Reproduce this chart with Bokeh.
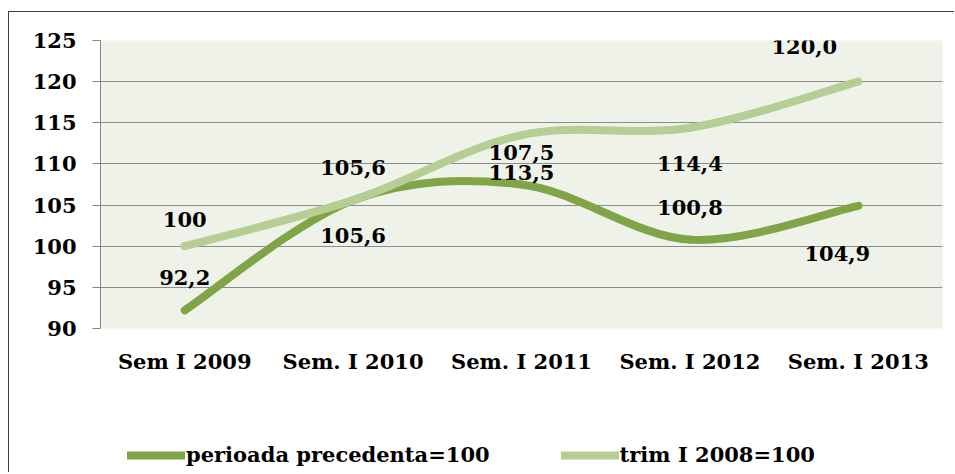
from bokeh.plotting import figure
from bokeh.layouts import column
from bokeh.models import Range1d, FixedTicker, Legend, LegendItem, ColumnDataSource
from bokeh.core.properties import value
from bokeh.embed import file_html
from bokeh.resources import INLINE

# ---- data ----
categories = ["Sem I 2009", "Sem. I 2010", "Sem. I 2011", "Sem. I 2012", "Sem. I 2013"]
prev_period = [92.2, 105.6, 107.5, 100.8, 104.9]      # perioada precedenta=100
base_2008 = [100.0, 105.6, 113.5, 114.4, 120.0]        # trim I 2008=100
prev_labels = ["92,2", "105,6", "107,5", "100,8", "104,9"]
base_labels = ["100", "105,6", "113,5", "114,4", "120,0"]
series_names = ["perioada precedenta=100", "trim I 2008=100"]
y_ticks = [90, 95, 100, 105, 110, 115, 120, 125]

# label placement (pixels, layout only)
prev_dx = [0, 0, 0, 0, -21]
prev_dy = [-33, 35, -32, -32, 48]
base_dx = [0, 0, 0, 0, -54]
base_dy = [-27, -33, 37, 36, -35]

DARK = "#80a548"
LIGHT = "#b6cd93"
FONT = "DejaVu Serif"
FS = "21px"

xs = list(range(1, len(categories) + 1))

p = figure(width=945, height=376, output_backend="svg", toolbar_location=None,
           x_range=Range1d(0.5, len(categories) + 0.5), y_range=Range1d(90, 125),
           min_border_left=91, min_border_right=12, min_border_top=28, min_border_bottom=60,
           background_fill_color="#eff2e9", border_fill_color="white")
p.outline_line_color = None

# axes
p.xaxis.ticker = FixedTicker(ticks=xs)
p.xaxis.major_label_overrides = {x: c for x, c in zip(xs, categories)}
p.xaxis.axis_line_color = None
p.xaxis.major_tick_line_color = None
p.xaxis.major_tick_out = 0
p.xaxis.minor_tick_line_color = None
p.xaxis.minor_tick_out = 0
p.xaxis.major_label_standoff = 20
p.xaxis.major_label_text_font = FONT
p.xaxis.major_label_text_font_style = "bold"
p.xaxis.major_label_text_font_size = FS
p.xaxis.major_label_text_color = "black"

p.yaxis.ticker = FixedTicker(ticks=y_ticks)
p.yaxis.axis_line_color = "#868686"
p.yaxis.major_tick_line_color = "#868686"
p.yaxis.major_tick_out = 8
p.yaxis.major_tick_in = 0
p.yaxis.minor_tick_line_color = None
p.yaxis.major_label_standoff = 16
p.yaxis.major_label_text_font = FONT
p.yaxis.major_label_text_font_style = "bold"
p.yaxis.major_label_text_font_size = FS
p.yaxis.major_label_text_color = "black"

p.xgrid.grid_line_color = None
p.ygrid.ticker = FixedTicker(ticks=y_ticks[1:])
p.ygrid.grid_line_color = "#8c8c8c"
p.ygrid.grid_line_width = 1


def smooth_segments(x, y):
    n = len(x)
    mx, my = [], []
    for i in range(n):
        a = max(i - 1, 0)
        b = min(i + 1, n - 1)
        mx.append((x[b] - x[a]) / 2.0)
        my.append((y[b] - y[a]) / 2.0)
    d = dict(x0=[], y0=[], x1=[], y1=[], cx0=[], cy0=[], cx1=[], cy1=[])
    for i in range(n - 1):
        d["x0"].append(x[i]); d["y0"].append(y[i])
        d["x1"].append(x[i + 1]); d["y1"].append(y[i + 1])
        d["cx0"].append(x[i] + mx[i] / 3.0); d["cy0"].append(y[i] + my[i] / 3.0)
        d["cx1"].append(x[i + 1] - mx[i + 1] / 3.0); d["cy1"].append(y[i + 1] - my[i + 1] / 3.0)
    return ColumnDataSource(d)


p.bezier(x0="x0", y0="y0", x1="x1", y1="y1", cx0="cx0", cy0="cy0", cx1="cx1", cy1="cy1",
         source=smooth_segments(xs, prev_period), line_color=DARK, line_width=8,
         line_cap="round", line_join="round")
p.bezier(x0="x0", y0="y0", x1="x1", y1="y1", cx0="cx0", cy0="cy0", cx1="cx1", cy1="cy1",
         source=smooth_segments(xs, base_2008), line_color=LIGHT, line_width=8,
         line_cap="round", line_join="round")

# data labels
src_prev = ColumnDataSource(dict(x=xs, y=prev_period, t=prev_labels, dx=prev_dx, dy=prev_dy))
src_base = ColumnDataSource(dict(x=xs, y=base_2008, t=base_labels, dx=base_dx, dy=base_dy))
for src in (src_prev, src_base):
    p.text(x="x", y="y", text="t", x_offset="dx", y_offset="dy", source=src,
           text_font=value(FONT), text_font_style="bold", text_font_size=FS,
           text_color="black", text_align="center", text_baseline="middle")

# legend strip below the chart (its series renderers lie outside its view; only the key shows)
pl = figure(width=945, height=84, output_backend="svg", toolbar_location=None,
            x_range=Range1d(-20, -10), y_range=Range1d(0, 1),
            x_axis_type=None, y_axis_type=None,
            min_border_left=0, min_border_right=0, min_border_top=0, min_border_bottom=0,
            background_fill_color="white", border_fill_color="white")
pl.outline_line_color = None
pl.xgrid.visible = False
pl.ygrid.visible = False
l_dark = pl.line(x=xs, y=prev_period, line_color=DARK, line_width=8, line_cap="round")
l_light = pl.line(x=xs, y=base_2008, line_color=LIGHT, line_width=8, line_cap="round")

legend = Legend(items=[LegendItem(label=series_names[0], renderers=[l_dark]),
                       LegendItem(label=series_names[1], renderers=[l_light])],
                orientation="horizontal", location=(27, 5),
                glyph_width=58, glyph_height=22, label_standoff=1, spacing=71,
                padding=0, margin=0, border_line_color=None, background_fill_alpha=0,
                label_text_font=FONT, label_text_font_style="bold",
                label_text_font_size=FS, label_text_color="black")
pl.add_layout(legend, "center")

layout = column(p, pl, spacing=0,
                styles={"margin-top": "11px", "margin-left": "8px",
                        "border-top": "1px solid #404040",
                        "border-left": "1px solid #404040"})

open("out.html", "w").write(file_html(layout, INLINE))
